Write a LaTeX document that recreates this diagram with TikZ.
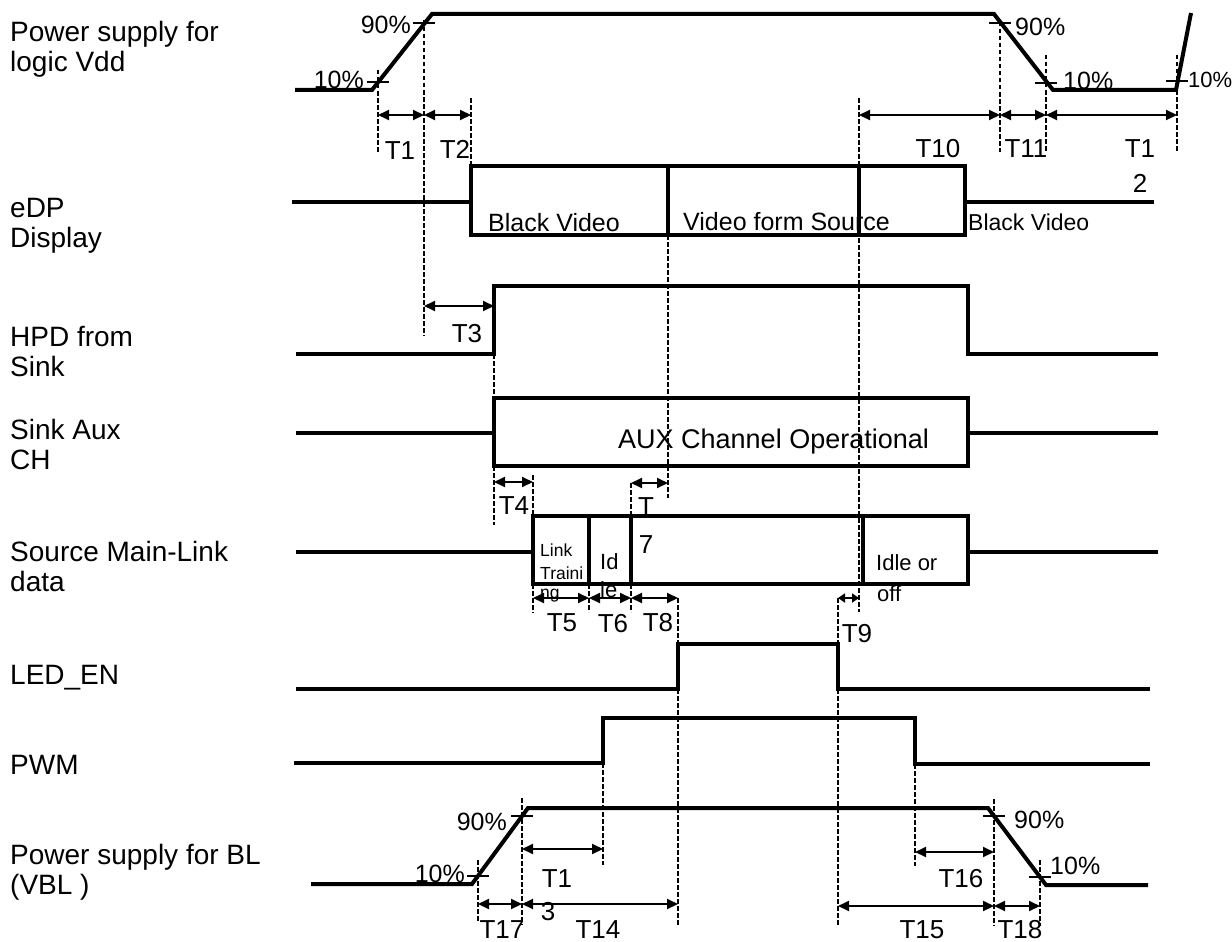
\documentclass[tikz,border=0pt]{standalone}
\usepackage{fontspec}
\setmainfont{Liberation Sans}
\usetikzlibrary{arrows.meta}
\begin{document}
\begin{tikzpicture}[x=1pt,y=-1pt,
  wavel/.style={line width=4pt},
  guideline/.style={line width=1.4pt, dash pattern=on 4.5pt off 2.5pt},
  dimarrow/.style={line width=2pt, {Triangle[length=11pt,width=10pt]}-{Triangle[length=11pt,width=10pt]}},
  shortarrow/.style={line width=2pt, {Triangle[length=7pt,width=9pt]}-{Triangle[length=7pt,width=9pt]}},
  tickmark/.style={line width=2pt},
  sig/.style={font=\fontsize{28}{30}\selectfont, inner sep=0pt, anchor=west, align=left},
  tlab/.style={font=\fontsize{26}{26}\selectfont, inner sep=0pt},
  boxtext/.style={font=\fontsize{25}{25}\selectfont, inner sep=0pt, anchor=west},
  smalltext/.style={font=\fontsize{17.5}{17.5}\selectfont, inner sep=0pt, anchor=west},
  midtext/.style={font=\fontsize{22}{22}\selectfont, inner sep=0pt, anchor=west},
  pct/.style={font=\fontsize{25}{25}\selectfont, inner sep=0pt}]
\useasboundingbox (0,0) rectangle (1232,942);

% ---------- signal names ----------
\node[sig] (nVdd) at (10,49) {Power supply for\\logic Vdd};
\node[sig] (nEDP) at (10,226) {eDP\\Display};
\node[sig] (nHPD) at (10,352) {HPD from\\Sink};
\node[sig] (nAux) at (10,444) {Sink Aux\\CH};
\node[sig] (nSrc) at (10,566) {Source Main-Link\\data};
\node[sig] (nLED) at (10,678) {LED\_EN};
\node[sig] (nPWM) at (10,765) {PWM};
\node[sig] (nBL)  at (10,872) {Power supply for BL\\(VBL )};

% ---------- guide (dashed) lines ----------
\draw[guideline] (378,70) -- (378,152);
\draw[guideline] (424,20) -- (424,336);
\draw[guideline] (471,98) -- (471,235);
\draw[guideline] (859,98) -- (859,612);
\draw[guideline] (1000,22) -- (1000,152);
\draw[guideline] (1046,55) -- (1046,153);
\draw[guideline] (1177,55) -- (1177,152);
\draw[guideline] (668,235) -- (668,498);
\draw[guideline] (494,354) -- (494,525);
\draw[guideline] (533,475) -- (533,517);
\draw[guideline] (533,584) -- (533,613);
\draw[guideline] (631,483) -- (631,517);
\draw[guideline] (589,584) -- (589,612);
\draw[guideline] (631,584) -- (631,612);
\draw[guideline] (678,598) -- (678,925);
\draw[guideline] (838,598) -- (838,925);
\draw[guideline] (603,763) -- (603,865);
\draw[guideline] (915,764) -- (915,866);
\draw[guideline] (478,860) -- (478,922);
\draw[guideline] (522,798) -- (522,925);
\draw[guideline] (994,799) -- (994,926);
\draw[guideline] (1040,860) -- (1040,926);

% ---------- Vdd ----------
\draw[wavel] (295,90) -- (372,90) -- (432,14) -- (994,14) -- (1053,90) -- (1176,90) -- (1191,13);
\draw[tickmark] (367,82) -- (389,82);
\draw[tickmark] (413,23) -- (435,23);
\draw[tickmark] (989,23) -- (1011,23);
\draw[tickmark] (1035,83) -- (1057,83);
\draw[tickmark] (1166,81) -- (1188,81);
\node[pct, anchor=east] (p1) at (364,80) {10\%};
\node[pct, anchor=east] (p2) at (411,25) {90\%};
\node[pct, anchor=west] (p3) at (1015,27) {90\%};
\node[pct, anchor=west] (p4) at (1063,81) {10\%};
\node[pct, anchor=west, font=\fontsize{22}{22}\selectfont] (p5) at (1188,80) {10\%};

\draw[dimarrow] (378,115) -- (424,115);
\draw[dimarrow] (424,115) -- (471,115);
\draw[dimarrow] (859,115) -- (1000,115);
\draw[dimarrow] (1000,115) -- (1046,115);
\draw[dimarrow] (1046,115) -- (1177,115);
\node[tlab] (t1) at (400,151) {T1};
\node[tlab] (t2) at (455,149) {T2};
\node[tlab] (t10) at (938,149) {T10};
\node[tlab] (t11) at (1026,149) {T11};
\node[tlab] (t12a) at (1140,149) {T1};
\node[tlab] (t12b) at (1140,183) {2};

% ---------- eDP ----------
\draw[wavel] (292,202) -- (471,202);
\draw[wavel] (471,166) rectangle (965,235);
\draw[wavel] (668,166) -- (668,235);
\draw[wavel] (859,166) -- (859,235);
\draw[wavel] (965,202) -- (1154,202);
\node[boxtext] (bv1) at (488,223) {Black Video};
\node[boxtext] (vfs) at (683,222) {Video form Source};
\node[boxtext, font=\fontsize{23}{23}\selectfont] (bv2) at (968,222) {Black Video};

% ---------- HPD ----------
\draw[wavel] (296,354) -- (494,354) -- (494,286) -- (968,286) -- (968,354) -- (1158,354);
\draw[dimarrow] (424,306) -- (494,306);
\node[tlab] (t3) at (467,334) {T3};

% ---------- Sink Aux ----------
\draw[wavel] (296,433) -- (494,433);
\draw[wavel] (494,398) rectangle (968,466);
\draw[wavel] (968,433) -- (1158,433);
\node[boxtext, font=\fontsize{27}{27}\selectfont] (aux) at (618,442) {AUX Channel Operational};

\draw[dimarrow] (494,482) -- (533,482);
\node[tlab] (t4) at (514,506) {T4};
\draw[dimarrow] (631,483) -- (668,483);
\node[tlab] (t7a) at (646,507) {T};

% ---------- Source Main-Link ----------
\draw[wavel] (296,552) -- (533,552);
\draw[wavel] (533,516) rectangle (968,584);
\draw[wavel] (589,516) -- (589,584);
\draw[wavel] (631,516) -- (631,584);
\draw[wavel] (863,516) -- (863,584);
\draw[wavel] (968,552) -- (1158,552);
\node[tlab] (t7b) at (646,545) {7};
\node[smalltext] (lt1) at (540,550) {Link};
\node[smalltext] (lt2) at (540,573) {Traini};
\node[smalltext] (lt3) at (540,596) {ng};
\node[midtext] (id1) at (600,562) {Id};
\node[midtext] (id2) at (600,590) {le};
\node[midtext] (io1) at (876,563) {Idle or};
\node[midtext] (io2) at (877,594) {off};

\draw[dimarrow] (533,598) -- (589,598);
\draw[dimarrow] (589,598) -- (631,598);
\draw[dimarrow] (631,598) -- (678,598);
\draw[shortarrow] (838,598) -- (859,598);
\node[tlab] (t5) at (562,623) {T5};
\node[tlab] (t6) at (613,624) {T6};
\node[tlab] (t8) at (658,623) {T8};
\node[tlab] (t9) at (857,634) {T9};

% ---------- LED_EN ----------
\draw[wavel] (296,689) -- (678,689) -- (678,644) -- (838,644) -- (838,689) -- (1150,689);

% ---------- PWM ----------
\draw[wavel] (294,763) -- (603,763) -- (603,718) -- (915,718) -- (915,764) -- (1150,764);

% ---------- BL ----------
\draw[wavel] (311,884) -- (472,884) -- (528,808) -- (988,808) -- (1046,885) -- (1148,885);
\draw[tickmark] (467,876) -- (489,876);
\draw[tickmark] (511,816) -- (533,816);
\draw[tickmark] (983,816) -- (1005,816);
\draw[tickmark] (1029,877) -- (1051,877);
\node[pct, anchor=east] (p6) at (465,874) {10\%};
\node[pct, anchor=east] (p7) at (507,822) {90\%};
\node[pct, anchor=west] (p8) at (1014,820) {90\%};
\node[pct, anchor=west] (p9) at (1050,866) {10\%};

\draw[dimarrow] (522,849) -- (603,849);
\draw[dimarrow] (915,852) -- (994,852);
\draw[dimarrow] (478,904) -- (522,904);
\draw[dimarrow] (522,904) -- (678,904);
\draw[dimarrow] (838,906) -- (994,906);
\draw[dimarrow] (994,906) -- (1040,906);
\node[tlab] (t13a) at (557,879) {T1};
\node[tlab] (t13b) at (548,912) {3};
\node[tlab] (t16) at (961,879) {T16};
\node[tlab] (t17) at (502,930) {T17};
\node[tlab] (t14) at (598,930) {T14};
\node[tlab] (t15) at (922,930) {T15};
\node[tlab] (t18) at (1020,930) {T18};
\end{tikzpicture}
\end{document}
